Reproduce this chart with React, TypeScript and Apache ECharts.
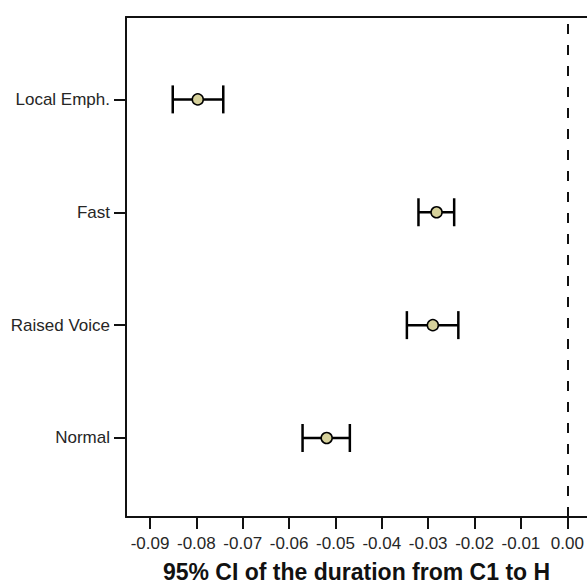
import React, { useEffect, useRef } from "react";
import * as echarts from "echarts";

const categories = ["Normal", "Raised Voice", "Fast", "Local Emph."];
const means = [-0.0519, -0.029, -0.0282, -0.0797];
const lower = [-0.0571, -0.0346, -0.0321, -0.0851];
const upper = [-0.0469, -0.0235, -0.0244, -0.0742];
const xTickValues = [-0.09, -0.08, -0.07, -0.06, -0.05, -0.04, -0.03, -0.02, -0.01, 0];
const xTitle = "95% CI of the duration from C1 to H";

const X_MIN = -0.09518;
const X_MAX = 0.00425;
const Y_MIN = 0.3;
const Y_MAX = 4.73;

export default function App() {
  const ref = useRef<HTMLDivElement>(null);
  useEffect(() => {
    if (!ref.current) return;
    const chart = echarts.init(ref.current, null, { renderer: "svg" });
    const font = "'Liberation Sans', Arial, sans-serif";
    const yPos = categories.map((_, i) => i + 1);
    const option: any = {
      animation: false,
      backgroundColor: "#ffffff",
      grid: { left: 126, right: 0, top: 17, bottom: 64, containLabel: false },
      xAxis: [
        {
          type: "value",
          position: "bottom",
          min: X_MIN,
          max: X_MAX,
          splitLine: { show: false },
          axisLine: { show: true, onZero: false, lineStyle: { color: "#111", width: 2 } },
          axisTick: {
            show: true,
            length: 12,
            customValues: xTickValues,
            lineStyle: { color: "#111", width: 2 },
          },
          axisLabel: {
            show: true,
            customValues: xTickValues,
            margin: 18,
            fontSize: 17,
            fontFamily: font,
            color: "#262626",
            formatter: (v: number) => v.toFixed(2),
          },
          name: xTitle,
          nameLocation: "middle",
          nameGap: 43,
          nameTextStyle: {
            fontSize: 23,
            fontWeight: "bold",
            fontFamily: font,
            color: "#111",
          },
        },
        {
          type: "value",
          position: "top",
          min: X_MIN,
          max: X_MAX,
          splitLine: { show: false },
          axisLine: { show: true, onZero: false, lineStyle: { color: "#111", width: 2 } },
          axisTick: { show: false },
          axisLabel: { show: false },
        },
      ],
      yAxis: {
        type: "value",
        min: Y_MIN,
        max: Y_MAX,
        splitLine: { show: false },
        axisLine: { show: true, onZero: false, lineStyle: { color: "#111", width: 2 } },
        axisTick: {
          show: true,
          length: 12,
          customValues: yPos,
          lineStyle: { color: "#111", width: 2 },
        },
        axisLabel: {
          show: true,
          customValues: yPos,
          margin: 16,
          fontSize: 17,
          fontFamily: font,
          color: "#262626",
          formatter: (v: number) => categories[Math.round(v) - 1] ?? "",
        },
      },
      series: [
        {
          type: "custom",
          xAxisIndex: 0,
          yAxisIndex: 0,
          data: categories.map((_, i) => [lower[i], upper[i], i + 1]),
          renderItem: (params: any, api: any) => {
            const p1 = api.coord([api.value(0), api.value(2)]);
            const p2 = api.coord([api.value(1), api.value(2)]);
            const h = 14;
            const style = { stroke: "#000", lineWidth: 2.5 };
            return {
              type: "group",
              children: [
                { type: "line", shape: { x1: p1[0], y1: p1[1], x2: p2[0], y2: p2[1] }, style },
                { type: "line", shape: { x1: p1[0], y1: p1[1] - h, x2: p1[0], y2: p1[1] + h }, style },
                { type: "line", shape: { x1: p2[0], y1: p2[1] - h, x2: p2[0], y2: p2[1] + h }, style },
              ],
            };
          },
          z: 2,
        },
        {
          type: "scatter",
          xAxisIndex: 0,
          yAxisIndex: 0,
          data: categories.map((_, i) => [means[i], i + 1]),
          symbol: "circle",
          symbolSize: 11,
          itemStyle: { color: "#d6d19b", borderColor: "#000", borderWidth: 1.5, opacity: 1 },
          z: 3,
          markLine: {
            silent: true,
            symbol: "none",
            label: { show: false },
            lineStyle: { color: "#111", width: 2, type: [10, 11] },
            data: [{ xAxis: 0 }],
          },
        },
      ],
    };
    chart.setOption(option);
    return () => chart.dispose();
  }, []);
  return (
    <div
      ref={ref}
      style={{ position: "fixed", left: 0, top: 0, width: 587, height: 588 }}
    />
  );
}
